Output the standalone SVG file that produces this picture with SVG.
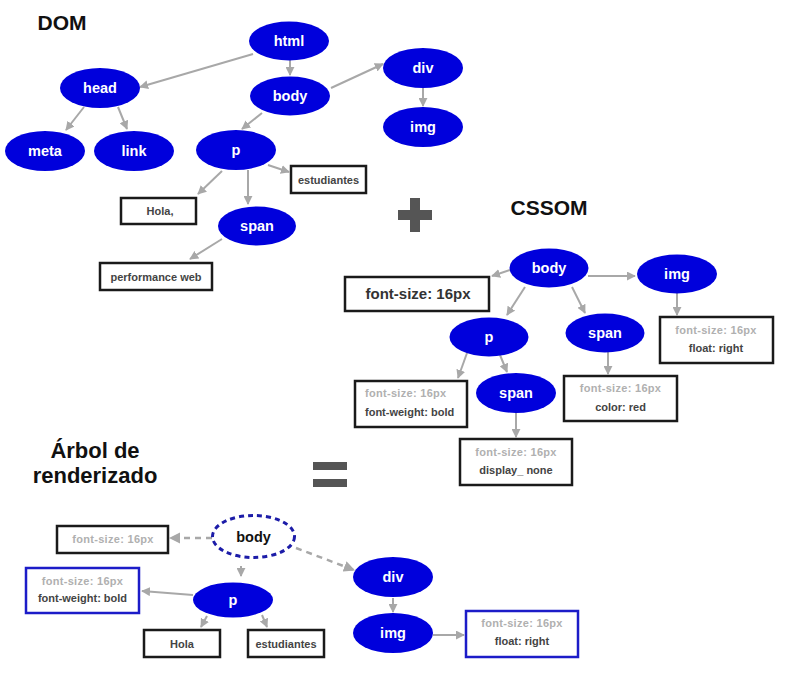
<svg xmlns="http://www.w3.org/2000/svg" width="787" height="673" viewBox="0 0 787 673">
<style>
.bg{fill:#ffffff}
.t{font-family:"Liberation Sans","Noto Sans",Arial,sans-serif;font-weight:700;text-anchor:middle}
.title{font-size:21px;fill:#111}
.n{fill:#0000dc}
.nt{font-size:14.5px;fill:#ffffff}
.box{fill:#ffffff;stroke:#1a1a1a;stroke-width:2.5}
.bbox{fill:#ffffff;stroke:#1c1cc8;stroke-width:2.5}
.bt{font-size:11px;fill:#444}
.gt{font-size:11px;fill:#b0b0b0;letter-spacing:0.3px}
.e{stroke:#a8a8a8;stroke-width:2;fill:none;marker-end:url(#ah)}
.d{stroke:#a8a8a8;stroke-width:2.5;fill:none;stroke-dasharray:6 5;marker-end:url(#ah)}
.op{fill:#555555}
</style>
<defs>
<marker id="ah" viewBox="0 0 10 10" refX="9" refY="5" markerWidth="4.5" markerHeight="4.5" orient="auto" markerUnits="strokeWidth">
<path d="M0,0 L10,5 L0,10 z" fill="#a8a8a8"/>
</marker>
</defs>
<rect class="bg" x="0" y="0" width="787" height="673"/>

<text class="t title" x="62" y="30">DOM</text>
<text class="t title" x="549" y="215">CSSOM</text>
<text class="t title" x="95" y="458" style="font-size:22px">Árbol de</text>
<text class="t title" x="95" y="483" style="font-size:22px">renderizado</text>

<g id="plus">
<rect class="op" x="398" y="210" width="34" height="10"/>
<rect class="op" x="410" y="198" width="10" height="34"/>
</g>
<g id="equals">
<rect class="op" x="313" y="462" width="34" height="8"/>
<rect class="op" x="313" y="479" width="34" height="8"/>
</g>

<g id="connectors">
<path class="e" d="M253,54 L140,87"/>
<path class="e" d="M290,60 L290,75"/>
<path class="e" d="M84,107 L66,130"/>
<path class="e" d="M118,107 L127,129"/>
<path class="e" d="M331,88 L383,64"/>
<path class="e" d="M423,88 L423,106"/>
<path class="e" d="M262,113 L242,129"/>
<path class="e" d="M268,165 L289,172"/>
<path class="e" d="M222,171 L198,194"/>
<path class="e" d="M248,170 L248,204"/>
<path class="e" d="M222,239 L190,259"/>

<path class="e" d="M510,270 L492,276"/>
<path class="e" d="M588,276 L635,276"/>
<path class="e" d="M525,287 L507,315"/>
<path class="e" d="M572,287 L585,313"/>
<path class="e" d="M677,293 L677,315"/>
<path class="e" d="M467,353 L458,378"/>
<path class="e" d="M500,355 L507,372"/>
<path class="e" d="M608,352 L608,374"/>
<path class="e" d="M516,413 L516,437"/>

<path class="d" d="M212,538 L170,538"/>
<path class="d" d="M296,548 L354,570"/>
<path class="e" d="M241,566 L241,576"/>
<path class="e" d="M193,595 L142,591"/>
<path class="e" d="M207,616 L201,627"/>
<path class="e" d="M262,615 L267,627"/>
<path class="e" d="M393,598 L393,612"/>
<path class="e" d="M433,635 L464,635"/>
</g>

<g id="dom-html"><ellipse class="n" cx="289" cy="41" rx="40" ry="19.5"/><text class="t nt" x="289" y="46">html</text></g>
<g id="dom-head"><ellipse class="n" cx="100" cy="88" rx="40" ry="20"/><text class="t nt" x="100" y="93">head</text></g>
<g id="dom-body"><ellipse class="n" cx="290" cy="96" rx="40" ry="19.5"/><text class="t nt" x="290" y="101">body</text></g>
<g id="dom-div"><ellipse class="n" cx="423" cy="68" rx="40" ry="20"/><text class="t nt" x="423" y="73">div</text></g>
<g id="dom-img"><ellipse class="n" cx="423" cy="127" rx="40" ry="20"/><text class="t nt" x="423" y="132">img</text></g>
<g id="dom-meta"><ellipse class="n" cx="45" cy="151" rx="40" ry="20"/><text class="t nt" x="45" y="156">meta</text></g>
<g id="dom-link"><ellipse class="n" cx="134" cy="151" rx="40" ry="20"/><text class="t nt" x="134" y="156">link</text></g>
<g id="dom-p"><ellipse class="n" cx="236" cy="150" rx="40" ry="20"/><text class="t nt" x="236" y="155">p</text></g>
<g id="dom-span"><ellipse class="n" cx="257" cy="226" rx="39" ry="19.5"/><text class="t nt" x="257" y="231">span</text></g>
<g id="dom-estudiantes"><rect class="box" x="291" y="166" width="75" height="27"/><text class="t bt" x="328.5" y="183.5">estudiantes</text></g>
<g id="dom-hola"><rect class="box" x="121" y="198" width="75" height="26"/><text class="t bt" x="160" y="215">Hola,</text></g>
<g id="dom-performance"><rect class="box" x="100" y="263" width="112" height="27"/><text class="t bt" x="156" y="280.5">performance web</text></g>

<g id="css-body"><ellipse class="n" cx="549" cy="268" rx="39.5" ry="19.5"/><text class="t nt" x="549" y="273">body</text></g>
<g id="css-img"><ellipse class="n" cx="677" cy="274" rx="40" ry="19.5"/><text class="t nt" x="677" y="279">img</text></g>
<g id="css-p"><ellipse class="n" cx="489" cy="337" rx="39.5" ry="19.5"/><text class="t nt" x="489" y="342">p</text></g>
<g id="css-span1"><ellipse class="n" cx="605" cy="333" rx="39.5" ry="19.5"/><text class="t nt" x="605" y="338">span</text></g>
<g id="css-span2"><ellipse class="n" cx="516" cy="393" rx="40" ry="20"/><text class="t nt" x="516" y="398">span</text></g>
<g id="css-fontsize"><rect class="box" x="345" y="277" width="144" height="34"/><text class="t" x="418" y="299" style="font-size:15px;fill:#333">font-size: 16px</text></g>
<g id="css-img-box"><rect class="box" x="660" y="317" width="113" height="46"/><text class="t gt" x="716" y="334">font-size: 16px</text><text class="t bt" x="716" y="352">float: right</text></g>
<g id="css-p-box"><rect class="box" x="355" y="381" width="112" height="46"/><text class="t gt" x="365" y="397" style="text-anchor:start">font-size: 16px</text><text class="t bt" x="365" y="416" style="text-anchor:start">font-weight: bold</text></g>
<g id="css-span1-box"><rect class="box" x="564" y="376" width="113" height="45"/><text class="t gt" x="620.5" y="392">font-size: 16px</text><text class="t bt" x="620.5" y="411">color: red</text></g>
<g id="css-span2-box"><rect class="box" x="460" y="439" width="112" height="46"/><text class="t gt" x="516" y="456">font-size: 16px</text><text class="t bt" x="516" y="474">display_ none</text></g>

<g id="rt-body"><ellipse cx="253.5" cy="536.5" rx="41" ry="21" fill="#ffffff" stroke="#1c1ca8" stroke-width="3" stroke-dasharray="5 4"/><text class="t" x="253.5" y="542" style="font-size:14.5px;fill:#111">body</text></g>
<g id="rt-fontsize"><rect class="box" x="57" y="526" width="111" height="27"/><text class="t gt" x="113" y="543">font-size: 16px</text></g>
<g id="rt-p"><ellipse class="n" cx="233" cy="600" rx="40" ry="17.5"/><text class="t nt" x="233" y="605">p</text></g>
<g id="rt-p-box"><rect class="bbox" x="26" y="568" width="113" height="45"/><text class="t gt" x="82.5" y="585">font-size: 16px</text><text class="t bt" x="82.5" y="602">font-weight: bold</text></g>
<g id="rt-hola"><rect class="box" x="144" y="630" width="76" height="27"/><text class="t bt" x="182" y="648">Hola</text></g>
<g id="rt-estudiantes"><rect class="box" x="248" y="630" width="76" height="27"/><text class="t bt" x="286" y="648">estudiantes</text></g>
<g id="rt-div"><ellipse class="n" cx="393" cy="577" rx="40" ry="20"/><text class="t nt" x="393" y="582">div</text></g>
<g id="rt-img"><ellipse class="n" cx="393" cy="633" rx="40" ry="20"/><text class="t nt" x="393" y="638">img</text></g>
<g id="rt-img-box"><rect class="bbox" x="466" y="611" width="112" height="46"/><text class="t gt" x="522" y="627">font-size: 16px</text><text class="t bt" x="522" y="645">float: right</text></g>
</svg>
